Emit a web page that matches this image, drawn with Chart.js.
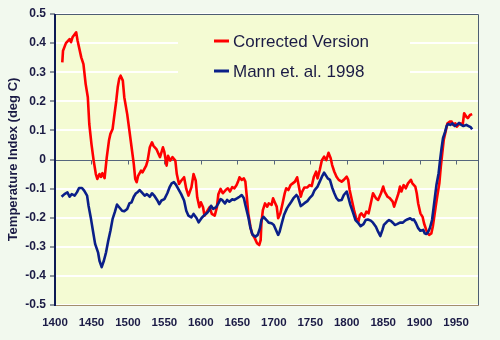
<!DOCTYPE html>
<html>
<head>
<meta charset="utf-8">
<script src="https://cdn.jsdelivr.net/npm/chart.js@4.4.1/dist/chart.umd.min.js"></script>
<style>
  html, body { margin: 0; padding: 0; background: #F2F9EE; }
  #wrap { width: 500px; height: 340px; }
</style>
</head>
<body>
<div id="wrap"><canvas id="tempChart" width="500" height="340"></canvas></div>
<script>
// Reconstructed temperature index, two versions
const correctedYears = [1410,1411,1415,1420,1422,1424,1429,1431,1436,1439,1442,1445,1447,1450,1453,1456,1458,1461,1463,1465,1468,1471,1474,1476,1479,1481,1484,1486,1488,1490,1493,1495,1499,1502,1505,1508,1510,1512,1514,1518,1520,1525,1527,1530,1533,1535,1539,1542,1544,1548,1550,1553,1555,1558,1561,1565,1567,1570,1573,1577,1580,1583,1587,1590,1593,1595,1598,1600,1603,1605,1609,1612,1615,1619,1622,1624,1627,1630,1634,1637,1640,1643,1646,1649,1651,1653,1656,1659,1661,1663,1665,1668,1670,1674,1677,1680,1682,1683,1685,1688,1691,1693,1697,1699,1701,1704,1706,1709,1712,1715,1717,1720,1723,1726,1729,1732,1734,1737,1739,1742,1746,1749,1752,1755,1758,1760,1763,1766,1769,1772,1775,1778,1780,1783,1786,1789,1793,1796,1800,1802,1804,1807,1810,1813,1816,1818,1820,1824,1827,1830,1834,1836,1840,1843,1847,1850,1852,1856,1859,1863,1865,1868,1871,1873,1875,1878,1881,1884,1888,1890,1894,1896,1898,1901,1904,1906,1909,1911,1913,1916,1918,1920,1922,1924,1927,1929,1931,1933,1936,1938,1941,1944,1946,1949,1951,1953,1956,1959,1961,1964,1966,1969,1972];
const correctedValues = [0.334,0.374,0.40,0.414,0.403,0.42,0.437,0.408,0.351,0.328,0.26,0.214,0.122,0.053,-0.004,-0.05,-0.067,-0.05,-0.06,-0.047,-0.064,0.008,0.065,0.088,0.105,0.145,0.202,0.248,0.277,0.288,0.271,0.214,0.156,0.099,0.042,-0.015,-0.067,-0.078,-0.056,-0.038,-0.044,-0.021,-0.004,0.042,0.059,0.047,0.036,0.019,0.008,0.042,0.025,-0.021,0.013,-0.004,0.008,-0.004,-0.05,-0.084,-0.073,-0.061,-0.101,-0.124,-0.096,-0.05,-0.073,-0.13,-0.164,-0.147,-0.164,-0.193,-0.176,-0.164,-0.187,-0.193,-0.164,-0.119,-0.101,-0.116,-0.105,-0.099,-0.11,-0.095,-0.099,-0.088,-0.076,-0.061,-0.07,-0.065,-0.076,-0.128,-0.185,-0.231,-0.254,-0.271,-0.288,-0.294,-0.277,-0.219,-0.174,-0.151,-0.162,-0.151,-0.156,-0.133,-0.145,-0.162,-0.202,-0.185,-0.151,-0.116,-0.099,-0.105,-0.088,-0.082,-0.076,-0.061,-0.088,-0.128,-0.11,-0.096,-0.096,-0.088,-0.091,-0.059,-0.042,-0.065,-0.036,-0.002,0.01,-0.002,0.023,0.004,-0.019,-0.042,-0.059,-0.07,-0.076,-0.07,-0.059,-0.07,-0.105,-0.139,-0.174,-0.202,-0.214,-0.191,-0.185,-0.197,-0.179,-0.185,-0.139,-0.116,-0.133,-0.139,-0.116,-0.093,-0.11,-0.128,-0.133,-0.145,-0.162,-0.139,-0.116,-0.093,-0.11,-0.088,-0.099,-0.082,-0.07,-0.082,-0.093,-0.116,-0.151,-0.185,-0.197,-0.219,-0.242,-0.254,-0.259,-0.254,-0.231,-0.197,-0.162,-0.128,-0.082,-0.025,0.021,0.067,0.101,0.124,0.13,0.13,0.119,0.124,0.113,0.119,0.124,0.119,0.159,0.147,0.142,0.153,0.156];

const mannYears = [1409,1413,1417,1420,1423,1427,1430,1433,1437,1440,1444,1446,1449,1452,1455,1459,1461,1464,1467,1470,1473,1476,1479,1482,1485,1488,1492,1495,1499,1502,1505,1508,1511,1513,1516,1519,1523,1526,1530,1533,1536,1540,1543,1546,1550,1554,1557,1560,1563,1566,1569,1573,1577,1580,1583,1587,1590,1594,1597,1601,1604,1608,1611,1614,1617,1621,1624,1627,1629,1633,1636,1639,1643,1646,1650,1653,1656,1659,1661,1665,1668,1671,1675,1678,1681,1683,1686,1690,1693,1697,1700,1703,1706,1708,1711,1714,1718,1721,1724,1727,1731,1733,1737,1739,1742,1746,1749,1753,1756,1760,1763,1766,1769,1771,1774,1777,1780,1783,1786,1789,1793,1796,1800,1802,1805,1809,1812,1816,1819,1823,1826,1829,1833,1836,1840,1843,1846,1849,1851,1855,1858,1861,1864,1866,1869,1873,1877,1880,1883,1887,1890,1892,1895,1898,1901,1905,1907,1909,1911,1914,1917,1919,1921,1923,1926,1928,1930,1932,1935,1937,1939,1942,1945,1948,1951,1954,1957,1960,1964,1967,1970,1972];
const mannValues = [-0.128,-0.119,-0.113,-0.128,-0.119,-0.124,-0.113,-0.098,-0.098,-0.107,-0.124,-0.159,-0.199,-0.245,-0.29,-0.319,-0.348,-0.37,-0.348,-0.319,-0.279,-0.245,-0.204,-0.181,-0.155,-0.164,-0.176,-0.178,-0.17,-0.151,-0.147,-0.128,-0.116,-0.113,-0.105,-0.113,-0.124,-0.119,-0.128,-0.116,-0.124,-0.139,-0.153,-0.141,-0.136,-0.116,-0.096,-0.082,-0.078,-0.087,-0.101,-0.119,-0.141,-0.176,-0.193,-0.199,-0.187,-0.201,-0.216,-0.201,-0.193,-0.185,-0.176,-0.159,-0.17,-0.164,-0.151,-0.136,-0.139,-0.151,-0.139,-0.145,-0.137,-0.139,-0.133,-0.128,-0.122,-0.133,-0.156,-0.197,-0.236,-0.259,-0.265,-0.259,-0.236,-0.208,-0.197,-0.208,-0.217,-0.219,-0.225,-0.242,-0.259,-0.248,-0.219,-0.191,-0.168,-0.156,-0.145,-0.133,-0.122,-0.128,-0.16,-0.156,-0.15,-0.143,-0.133,-0.122,-0.105,-0.093,-0.076,-0.059,-0.045,-0.053,-0.065,-0.07,-0.096,-0.116,-0.133,-0.141,-0.139,-0.122,-0.11,-0.128,-0.156,-0.185,-0.208,-0.219,-0.229,-0.222,-0.208,-0.206,-0.21,-0.217,-0.231,-0.248,-0.263,-0.242,-0.225,-0.214,-0.208,-0.212,-0.219,-0.225,-0.222,-0.217,-0.217,-0.21,-0.206,-0.202,-0.208,-0.206,-0.219,-0.236,-0.245,-0.242,-0.254,-0.256,-0.252,-0.236,-0.208,-0.168,-0.128,-0.088,-0.047,-0.002,0.038,0.073,0.096,0.115,0.122,0.119,0.124,0.115,0.119,0.126,0.119,0.115,0.119,0.115,0.111,0.104];

const seriesNames = ['Corrected Version', 'Mann et. al. 1998'];
const seriesColors = ['#FF0000', '#0A1F88'];
const yearTicks = [1400,1450,1500,1550,1600,1650,1700,1750,1800,1850,1900,1950];

const plotBg = '#F4FBD3';
const textColor = '#1B1B45';
const fontFamily = "'Liberation Sans', Arial, sans-serif";

function toPoints(xs, ys) {
    return xs.map((x, i) => ({ x: x, y: ys[i] }));
}

// plot area fill, zero line with its ticks, frame and the boxed legend
const decorations = {
    id: 'decorations',
    beforeDraw(chart) {
        const { ctx, chartArea: a } = chart;
        ctx.save();
        ctx.fillStyle = plotBg;
        ctx.fillRect(a.left, a.top, a.right - a.left, a.bottom - a.top);
        ctx.restore();
    },
    beforeDatasetsDraw(chart) {
        const { ctx, chartArea: a, scales } = chart;
        const y0 = Math.round(scales.y.getPixelForValue(0)) + 0.5;
        ctx.save();
        // legend box hides the gridlines behind it
        ctx.fillStyle = plotBg;
        ctx.fillRect(178, 24, 232, 68);

        ctx.strokeStyle = '#56677C';
        ctx.lineWidth = 1;
        ctx.beginPath();
        ctx.moveTo(a.left, y0);
        ctx.lineTo(a.right, y0);
        scales.x.ticks.forEach(t => {
            const px = Math.round(scales.x.getPixelForValue(t.value)) + 0.5;
            ctx.moveTo(px, y0);
            ctx.lineTo(px, y0 + 4);
        });
        ctx.stroke();

        // frame
        ctx.lineWidth = 1;
        ctx.strokeStyle = '#4E5E72';
        ctx.beginPath();
        ctx.moveTo(a.left, a.top + 0.5);
        ctx.lineTo(a.right + 0.5, a.top + 0.5);
        ctx.lineTo(a.right + 0.5, a.bottom);
        ctx.stroke();
        ctx.strokeStyle = '#A38E6C';
        ctx.beginPath();
        ctx.moveTo(a.left, a.bottom + 0.5);
        ctx.lineTo(a.right + 1, a.bottom + 0.5);
        ctx.stroke();
        ctx.strokeStyle = '#0E1A55';
        ctx.lineWidth = 2;
        ctx.beginPath();
        ctx.moveTo(a.left, a.top);
        ctx.lineTo(a.left, a.bottom + 1);
        ctx.stroke();
        ctx.restore();
    },
    afterDraw(chart) {
        const { ctx } = chart;
        ctx.save();
        ctx.font = '17px ' + fontFamily;
        ctx.textBaseline = 'middle';
        chart.data.datasets.forEach((ds, i) => {
            const y = 41 + i * 30;
            ctx.strokeStyle = ds.borderColor;
            ctx.lineWidth = 3;
            ctx.beginPath();
            ctx.moveTo(214, y);
            ctx.lineTo(229, y);
            ctx.stroke();
            ctx.fillStyle = textColor;
            ctx.fillText(ds.label, 233, y + 1);
        });
        ctx.restore();
    }
};

const ctx = document.getElementById('tempChart').getContext('2d');
const tempChart = new Chart(ctx, {
    type: 'line',
    data: {
        datasets: [{
            label: seriesNames[0],
            data: toPoints(correctedYears, correctedValues),
            borderColor: seriesColors[0],
            borderWidth: 2.6,
            order: 1
        }, {
            label: seriesNames[1],
            data: toPoints(mannYears, mannValues),
            borderColor: seriesColors[1],
            borderWidth: 2.6,
            order: 0
        }]
    },
    options: {
        responsive: false,
        animation: false,
        events: [],
        layout: { padding: { left: 0, right: 22, top: 14, bottom: 0 } },
        elements: {
            point: { radius: 0 },
            line: { tension: 0, borderJoinStyle: 'round' }
        },
        plugins: {
            legend: { display: false },
            tooltip: { enabled: false }
        },
        scales: {
            x: {
                type: 'linear',
                min: 1400,
                max: 1980,
                border: { display: false },
                grid: { display: false, drawTicks: false },
                afterBuildTicks: scale => {
                    scale.ticks = yearTicks.map(v => ({ value: v }));
                },
                afterFit: scale => { scale.height = 35; },
                ticks: {
                    padding: 11,
                    maxRotation: 0,
                    autoSkip: false,
                    color: textColor,
                    font: { family: fontFamily, size: 11.5, weight: 'bold' },
                    callback: v => String(v)
                }
            },
            y: {
                min: -0.5,
                max: 0.5,
                border: { display: false },
                afterFit: scale => { scale.width = 55; },
                grid: {
                    color: ctx => (ctx.tick && Math.abs(ctx.tick.value) < 1e-9) ? 'rgba(0,0,0,0)' : 'rgba(255,255,255,0.95)',
                    lineWidth: 2,
                    tickColor: '#2A3450',
                    tickWidth: 1,
                    tickLength: 5
                },
                ticks: {
                    stepSize: 0.1,
                    padding: 4,
                    color: textColor,
                    font: { family: fontFamily, size: 12, weight: 'bold' },
                    callback: v => String(Number(v.toFixed(1)))
                },
                title: {
                    display: true,
                    text: 'Temperature Index (deg C)',
                    color: textColor,
                    padding: { top: 6, bottom: 0 },
                    font: { family: fontFamily, size: 13, weight: 'bold' }
                }
            }
        }
    },
    plugins: [decorations]
});
</script>
</body>
</html>
